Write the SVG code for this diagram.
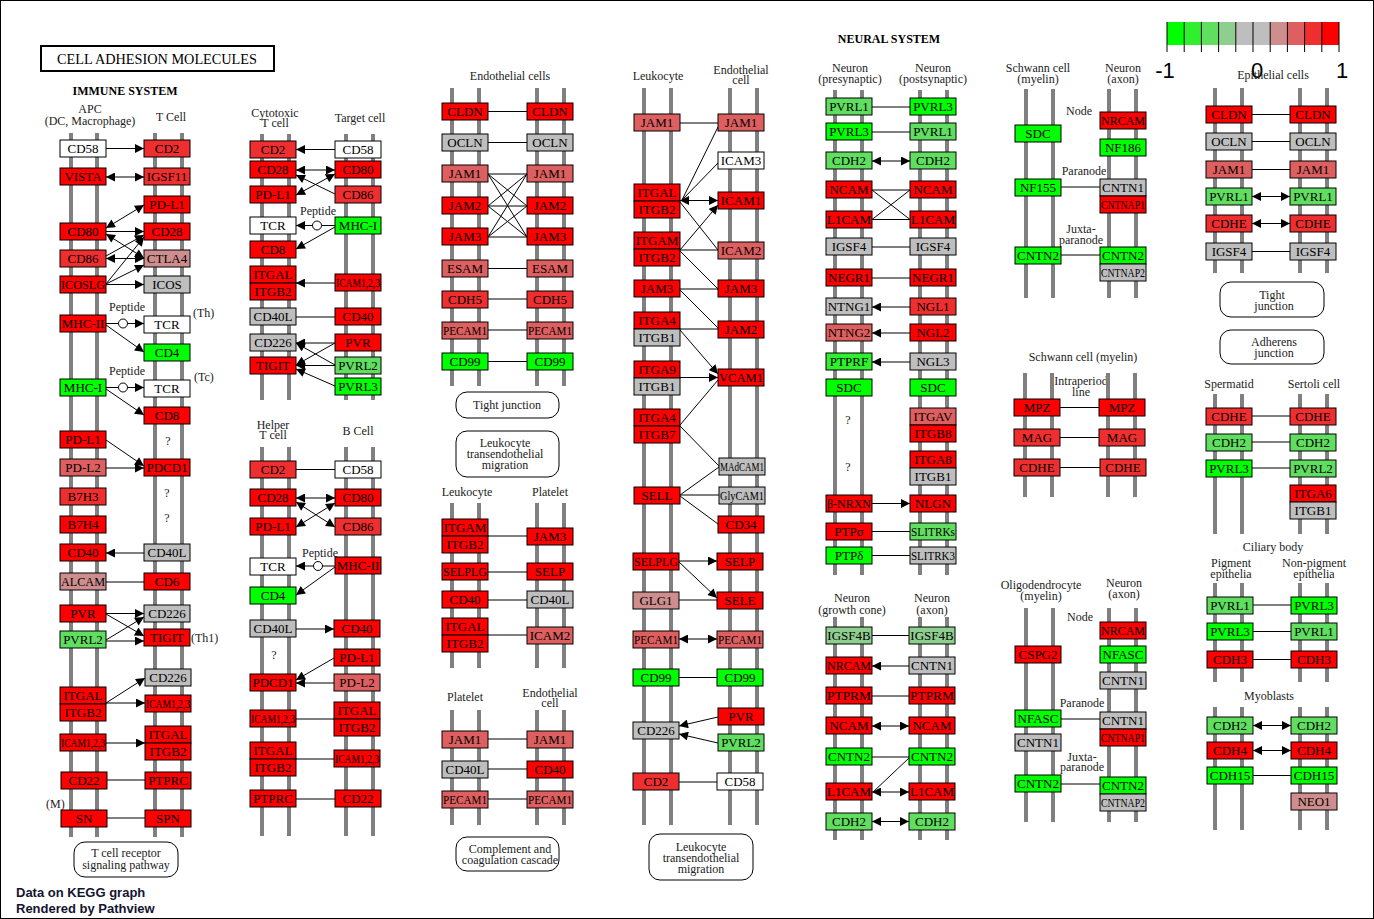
<svg xmlns="http://www.w3.org/2000/svg" width="1374" height="919" viewBox="0 0 1374 919">
<style>
.n{stroke:#000;stroke-width:1}
.t{font-family:"Liberation Serif",serif;font-size:13px;text-anchor:middle;fill:#000}
.l{font-family:"Liberation Serif",serif;font-size:12px;text-anchor:middle;fill:#222}
.s{text-anchor:start}
.h{font-weight:bold;font-size:12px;fill:#000}
.mb{stroke:#808080;stroke-width:4}
.e{stroke:#000;stroke-width:1;fill:none}
.a{marker-end:url(#ar)}
.b{marker-start:url(#ar);marker-end:url(#ar)}
.rb{fill:#fff;stroke:#000;stroke-width:1}
.c0{fill:#FF0000}.c1{fill:#EF2F2F}.c2{fill:#DE5F5F}.c3{fill:#CE8E8E}
.g{fill:#BEBEBE}.w{fill:#FFFFFF}
.e0{fill:#00FF00}.e1{fill:#2FEF2F}.e2{fill:#5FDE5F}.e3{fill:#8ECE8E}
.ft{font-family:"Liberation Sans",Arial,sans-serif;font-weight:bold;font-size:13px;fill:#141432}
.lg{font-family:"Liberation Sans",Arial,sans-serif;font-size:22px;fill:#000}
</style>
<defs>
<marker id="ar" viewBox="0 0 10 10" refX="10" refY="5" markerWidth="10" markerHeight="9" markerUnits="userSpaceOnUse" orient="auto-start-reverse"><path d="M0,0 L10,5 L0,10 z" fill="#000"/></marker>
</defs>
<rect x="0.5" y="0.5" width="1373" height="918" fill="#fff" stroke="#000"/>

<g id="legend">
<rect x="1167" y="22" width="17.2" height="23" class="e0"/>
<rect x="1184.2" y="22" width="17.2" height="23" class="e1"/>
<rect x="1201.4" y="22" width="17.2" height="23" class="e2"/>
<rect x="1218.6" y="22" width="17.2" height="23" class="e3"/>
<rect x="1235.8" y="22" width="17.2" height="23" class="g"/>
<rect x="1253" y="22" width="17.2" height="23" class="g"/>
<rect x="1270.2" y="22" width="17.2" height="23" class="c3"/>
<rect x="1287.4" y="22" width="17.2" height="23" class="c2"/>
<rect x="1304.6" y="22" width="17.2" height="23" class="c1"/>
<rect x="1321.8" y="22" width="17.2" height="23" class="c0"/>
<path d="M1167,22V52M1184.2,22V52M1201.4,22V52M1218.6,22V52M1235.8,22V52M1253,22V52M1270.2,22V52M1287.4,22V52M1304.6,22V52M1321.8,22V52M1339,22V52" stroke="#000" stroke-width="1"/>
<text x="1165" y="78" class="lg" text-anchor="middle">-1</text>
<text x="1257" y="78" class="lg" text-anchor="middle">0</text>
<text x="1342" y="78" class="lg" text-anchor="middle">1</text>
</g>

<g id="title">
<rect x="41" y="46" width="233" height="25" fill="#fff" stroke="#000" stroke-width="2"/>
<text x="157" y="64" class="t" style="font-size:14px" textLength="200" lengthAdjust="spacingAndGlyphs">CELL ADHESION  MOLECULES</text>
</g>

<g id="labels">
<text x="125" y="95" class="l h">IMMUNE SYSTEM</text>
<text x="90" y="113" class="l">APC</text>
<text x="90" y="125" class="l">(DC, Macrophage)</text>
<text x="171" y="121" class="l">T Cell</text>
<text x="127" y="311" class="l">Peptide</text>
<text x="127" y="375" class="l">Peptide</text>
<text x="193" y="317" class="l s">(Th)</text>
<text x="194" y="381" class="l s">(Tc)</text>
<text x="191" y="642" class="l s">(Th1)</text>
<text x="46" y="808" class="l s">(M)</text>
<text x="168" y="445" class="l">?</text>
<text x="167" y="497" class="l">?</text>
<text x="167" y="522" class="l">?</text>
<text x="275" y="117" class="l">Cytotoxic</text>
<text x="275" y="127" class="l">T cell</text>
<text x="360" y="122" class="l">Target cell</text>
<text x="318" y="215" class="l">Peptide</text>
<text x="273" y="429" class="l">Helper</text>
<text x="273" y="439" class="l">T cell</text>
<text x="358" y="435" class="l">B Cell</text>
<text x="320" y="557" class="l">Peptide</text>
<text x="274" y="659" class="l">?</text>
<text x="510" y="80" class="l">Endothelial cells</text>
<text x="467" y="496" class="l">Leukocyte</text>
<text x="550" y="496" class="l">Platelet</text>
<text x="465" y="701" class="l">Platelet</text>
<text x="550" y="697" class="l">Endothelial</text>
<text x="550" y="707" class="l">cell</text>
<text x="658" y="80" class="l">Leukocyte</text>
<text x="741" y="74" class="l">Endothelial</text>
<text x="741" y="84" class="l">cell</text>
<text x="889" y="43" class="l h">NEURAL SYSTEM</text>
<text x="850" y="72" class="l">Neuron</text>
<text x="850" y="83" class="l">(presynaptic)</text>
<text x="933" y="72" class="l">Neuron</text>
<text x="933" y="83" class="l">(postsynaptic)</text>
<text x="848" y="424" class="l">?</text>
<text x="848" y="471" class="l">?</text>
<text x="852" y="602" class="l">Neuron</text>
<text x="852" y="614" class="l">(growth cone)</text>
<text x="932" y="602" class="l">Neuron</text>
<text x="932" y="614" class="l">(axon)</text>
<text x="1038" y="72" class="l">Schwann cell</text>
<text x="1038" y="83" class="l">(myelin)</text>
<text x="1123" y="72" class="l">Neuron</text>
<text x="1123" y="83" class="l">(axon)</text>
<text x="1079" y="115" class="l">Node</text>
<text x="1084" y="175" class="l">Paranode</text>
<text x="1081" y="233" class="l">Juxta-</text>
<text x="1081" y="244" class="l">paranode</text>
<text x="1273" y="79" class="l">Epithelial cells</text>
<text x="1083" y="361" class="l">Schwann cell (myelin)</text>
<text x="1081" y="385" class="l">Intraperiod</text>
<text x="1081" y="396" class="l">line</text>
<text x="1229" y="388" class="l">Spermatid</text>
<text x="1314" y="388" class="l">Sertoli cell</text>
<text x="1273" y="551" class="l">Ciliary body</text>
<text x="1231" y="567" class="l">Pigment</text>
<text x="1231" y="578" class="l">epithelia</text>
<text x="1314" y="567" class="l">Non-pigment</text>
<text x="1314" y="578" class="l">epithelia</text>
<text x="1269" y="700" class="l">Myoblasts</text>
<text x="1041" y="589" class="l">Oligodendrocyte</text>
<text x="1041" y="600" class="l">(myelin)</text>
<text x="1124" y="587" class="l">Neuron</text>
<text x="1124" y="598" class="l">(axon)</text>
<text x="1080" y="621" class="l">Node</text>
<text x="1082" y="707" class="l">Paranode</text>
<text x="1082" y="761" class="l">Juxta-</text>
<text x="1082" y="771" class="l">paranode</text>
<text x="16" y="897" class="ft">Data on KEGG graph</text>
<text x="16" y="913" class="ft">Rendered by Pathview</text>
</g>

<g id="membranes" class="mb">
<path d="M71,133V837M97,133V837M155,133V837M182,133V837"/>
<path d="M262,134V400M289,134V400M346,134V400M373,134V400"/>
<path d="M262,447V836M289,447V836M346,447V836M373,447V836"/>
<path d="M452,88V386M479,88V386M537,88V386M564,88V386"/>
<path d="M452,503V668M479,503V668M537,503V668M564,503V668"/>
<path d="M452,710V825M479,710V825M537,710V825M564,710V825"/>
<path d="M644,88V825M671,88V825M730,88V825M757,88V825"/>
<path d="M835,90V575M862,90V575M920,90V575M947,90V575"/>
<path d="M835,617V840M862,617V840M920,617V840M947,617V840"/>
<path d="M1026,89V298M1053,89V298M1109,89V298M1136,89V298"/>
<path d="M1215,88V273M1242,88V273M1300,88V273M1327,88V273"/>
<path d="M1025,373V497M1052,373V497M1108,373V497M1135,373V497"/>
<path d="M1215,394V534M1242,394V534M1300,394V534M1327,394V534"/>
<path d="M1215,583V682M1242,583V682M1300,583V682M1327,583V682"/>
<path d="M1215,707V830M1242,707V830M1300,707V830M1327,707V830"/>
<path d="M1026,608V822M1053,608V822M1109,608V822M1136,608V822"/>
</g>

<g id="connectors">
<!-- immune -->
<path class="e a" d="M106,148.5L144,148.5"/>
<path class="e b" d="M106,177L144,177"/>
<path class="e b" d="M106,228L144,205"/>
<path class="e a" d="M106,231.5L144,231.5"/>
<path class="e b" d="M106,234L144,258"/>
<path class="e b" d="M106,258.5L144,258.5"/>
<path class="e a" d="M106,256L144,235"/>
<path class="e a" d="M106,284L144,237"/>
<path class="e a" d="M106,284L144,265"/>
<path class="e a" d="M106,284.5L144,284.5"/>
<path class="e" d="M106,323.5L119,323.5"/>
<circle cx="123" cy="323.5" r="4.5" fill="#fff" stroke="#000"/>
<path class="e a" d="M127.5,323.5L144,323.5"/>
<path class="e a" d="M106,325L144,352"/>
<path class="e" d="M106,387.5L119,387.5"/>
<circle cx="123" cy="387.5" r="4.5" fill="#fff" stroke="#000"/>
<path class="e a" d="M127.5,387.5L144,387.5"/>
<path class="e a" d="M106,389L144,415"/>
<path class="e a" d="M106,440L144,466"/>
<path class="e a" d="M106,468L144,468"/>
<path class="e a" d="M144,553L106,553"/>
<path class="e" d="M106,582L144,582"/>
<path class="e a" d="M106,613.5L144,613.5"/>
<path class="e a" d="M106,614L144,636"/>
<path class="e a" d="M106,640L144,617"/>
<path class="e a" d="M106,641L144,641"/>
<path class="e a" d="M106,703L145,678"/>
<path class="e a" d="M106,703L145,703"/>
<path class="e a" d="M106,743L145,743"/>
<path class="e" d="M107,780L145,780"/>
<path class="e" d="M107,818L145,818"/>
<!-- cytotoxic -->
<path class="e a" d="M335,149.5L296,149.5"/>
<path class="e b" d="M296,170L335,170"/>
<path class="e a" d="M335,194L296,175"/>
<path class="e b" d="M335,174L296,195"/>
<path class="e" d="M335,225.5L321.5,225.5"/>
<circle cx="317" cy="225.5" r="4.5" fill="#fff" stroke="#000"/>
<path class="e a" d="M312.5,225.5L296,225.5"/>
<path class="e a" d="M335,227L296,249"/>
<path class="e a" d="M335,283L296,283"/>
<path class="e" d="M296,317L335,317"/>
<path class="e a" d="M335,343L296,343"/>
<path class="e a" d="M335,343L296,365"/>
<path class="e a" d="M335,365L296,343"/>
<path class="e a" d="M335,365.5L296,365.5"/>
<path class="e a" d="M335,386L296,369"/>
<!-- helper -->
<path class="e" d="M296,469.5L335,469.5"/>
<path class="e b" d="M296,498L335,498"/>
<path class="e b" d="M296,502L335,527"/>
<path class="e b" d="M335,503L296,527"/>
<path class="e" d="M335,566L322.5,566"/>
<circle cx="318" cy="566" r="4.5" fill="#fff" stroke="#000"/>
<path class="e a" d="M313.5,566L296,566"/>
<path class="e a" d="M335,567L296,595"/>
<path class="e a" d="M296,629L334,629"/>
<path class="e a" d="M334,658L296,680"/>
<path class="e a" d="M334,683L296,683"/>
<path class="e" d="M296,719L334,719"/>
<path class="e" d="M296,759L334,759"/>
<path class="e" d="M296,799L335,799"/>
<!-- endothelial -->
<path class="e" d="M488,111.5L527,111.5M488,142.5L527,142.5M488,268.5L527,268.5M488,299L527,299M488,330L527,330M488,361.5L527,361.5"/>
<path class="e" stroke-width="0.8" d="M488,174L527,174M488,174L527,206M488,174L527,237M488,206L527,174M488,206L527,206M488,206L527,237M488,237L527,174M488,237L527,206M488,237L527,237"/>
<path class="e" d="M488,536L527,536M488,572L527,572M488,600L527,600M488,635L527,635"/>
<path class="e" d="M488,739L527,739M488,769L527,769M488,799L527,799"/>
<!-- leukocyte / endothelial -->
<path class="e" d="M680,123L718,123M718,127L682,200M718,163L682,200"/>
<path class="e b" d="M680,200.5L718,200.5"/>
<path class="e" d="M680,202L718,250"/>
<path class="e a" d="M680,250L718,205"/>
<path class="e" d="M680,250L718,250M680,251L718,289M680,289L718,289M680,290L718,328M680,329L718,329"/>
<path class="e a" d="M680,330L718,374"/>
<path class="e a" d="M680,377.5L718,377.5"/>
<path class="e" d="M680,425L718,380M680,426L719,466M680,495L719,467M680,495L719,495M680,496L718,524"/>
<path class="e a" d="M679,561L717,561"/>
<path class="e a" d="M679,562L717,598"/>
<path class="e" d="M679,600L717,600"/>
<path class="e b" d="M679,639L717,639"/>
<path class="e" d="M679,677.5L717,677.5"/>
<path class="e a" d="M718,717L679,726"/>
<path class="e a" d="M718,743L679,734"/>
<path class="e" d="M679,782L717,782"/>
<!-- neural 1 -->
<path class="e" d="M872,107L910,107M872,132L910,132M872,190L910,190M872,219.5L910,219.5M872,190L910,219.5M872,219.5L910,190M872,247L910,247M872,278L910,278M872,531.5L910,531.5M872,555.5L910,555.5"/>
<path class="e b" d="M872,161L910,161"/>
<path class="e a" d="M910,307L872,307"/>
<path class="e a" d="M910,333L872,333"/>
<path class="e a" d="M910,362L872,362"/>
<path class="e a" d="M872,503.5L910,503.5"/>
<!-- neural 2 -->
<path class="e" d="M872,635.5L909,635.5M872,696L909,696M872,757L909,757M909,758L873,792"/>
<path class="e a" d="M909,666L872,666"/>
<path class="e b" d="M872,726L909,726"/>
<path class="e b" d="M872,792L909,792"/>
<path class="e b" d="M872,821.5L909,821.5"/>
<!-- schwann / epithelial -->
<path class="e" d="M1061,187L1100,187M1061,255L1100,255"/>
<path class="e" d="M1252,114.5L1290,114.5M1252,141.5L1290,141.5M1252,169.5L1290,169.5M1252,251.5L1290,251.5"/>
<path class="e b" d="M1252,196.5L1290,196.5"/>
<path class="e b" d="M1252,223.5L1290,223.5"/>
<path class="e" d="M1060,407.5L1099,407.5M1060,437.5L1099,437.5M1060,467.5L1100,467.5"/>
<path class="e" d="M1252,416L1290,416M1252,442L1290,442M1252,468L1290,468"/>
<path class="e" d="M1253,605L1291,605M1253,631.5L1291,631.5M1253,659.5L1291,659.5"/>
<path class="e b" d="M1253,725.5L1291,725.5"/>
<path class="e b" d="M1253,750.5L1291,750.5"/>
<path class="e" d="M1253,775.5L1291,775.5"/>
<path class="e" d="M1061,719L1100,719M1061,784L1100,784"/>
</g>

<g id="pathways">
<g id="p_tcr"><rect x="74" y="842" width="104" height="35" rx="11" class="rb"/><text x="126" y="857" class="l">T cell receptor</text><text x="126" y="869" class="l">signaling pathway</text></g>
<g id="p_tj1"><rect x="456" y="392" width="103" height="26" rx="11" class="rb"/><text x="507" y="409" class="l">Tight junction</text></g>
<g id="p_ltm1"><rect x="456" y="431" width="103" height="46" rx="11" class="rb"/><text x="505" y="447" class="l">Leukocyte</text><text x="505" y="458" class="l">transendothelial</text><text x="505" y="469" class="l">migration</text></g>
<g id="p_cc"><rect x="456" y="837" width="103" height="34" rx="11" class="rb"/><text x="510" y="853" class="l">Complement and</text><text x="510" y="864" class="l">coagulation cascade</text></g>
<g id="p_ltm2"><rect x="649" y="834" width="104" height="46" rx="11" class="rb"/><text x="701" y="851" class="l">Leukocyte</text><text x="701" y="862" class="l">transendothelial</text><text x="701" y="873" class="l">migration</text></g>
<g id="p_tj2"><rect x="1220" y="282" width="104" height="35" rx="11" class="rb"/><text x="1272" y="299" class="l">Tight</text><text x="1274" y="310" class="l">junction</text></g>
<g id="p_aj"><rect x="1220" y="330" width="104" height="34" rx="11" class="rb"/><text x="1274" y="346" class="l">Adherens</text><text x="1274" y="357" class="l">junction</text></g>
</g>

<!-- immune nodes -->
<g id="imm_CD58"><rect x="60" y="140" width="46" height="17" class="n w"/><text x="83" y="153" class="t">CD58</text></g>
<g id="imm_VISTA"><rect x="60" y="168" width="46" height="17" class="n c0"/><text x="83" y="181" class="t">VISTA</text></g>
<g id="imm_CD80"><rect x="60" y="223" width="46" height="17" class="n c0"/><text x="83" y="236" class="t">CD80</text></g>
<g id="imm_CD86"><rect x="60" y="250" width="46" height="17" class="n c1"/><text x="83" y="263" class="t">CD86</text></g>
<g id="imm_ICOSLG"><rect x="60" y="276" width="46" height="17" class="n c0"/><text x="83" y="289" class="t" textLength="44" lengthAdjust="spacingAndGlyphs">ICOSLG</text></g>
<g id="imm_MHCII"><rect x="60" y="315" width="46" height="17" class="n c0"/><text x="83" y="328" class="t">MHC-II</text></g>
<g id="imm_MHCI"><rect x="60" y="379" width="46" height="17" class="n e0"/><text x="83" y="392" class="t">MHC-I</text></g>
<g id="imm_PDL1a"><rect x="60" y="431" width="46" height="17" class="n c0"/><text x="83" y="444" class="t">PD-L1</text></g>
<g id="imm_PDL2"><rect x="60" y="459" width="46" height="17" class="n c2"/><text x="83" y="472" class="t">PD-L2</text></g>
<g id="imm_B7H3"><rect x="60" y="488" width="46" height="17" class="n c1"/><text x="83" y="501" class="t">B7H3</text></g>
<g id="imm_B7H4"><rect x="60" y="516" width="46" height="17" class="n c0"/><text x="83" y="529" class="t">B7H4</text></g>
<g id="imm_CD40"><rect x="60" y="544" width="46" height="17" class="n c0"/><text x="83" y="557" class="t">CD40</text></g>
<g id="imm_ALCAM"><rect x="60" y="573" width="46" height="17" class="n c3"/><text x="83" y="586" class="t" textLength="44" lengthAdjust="spacingAndGlyphs">ALCAM</text></g>
<g id="imm_PVR"><rect x="60" y="605" width="46" height="17" class="n c0"/><text x="83" y="618" class="t">PVR</text></g>
<g id="imm_PVRL2"><rect x="60" y="631" width="46" height="17" class="n e2"/><text x="83" y="644" class="t">PVRL2</text></g>
<g id="imm_ITGAL_ITGB2a"><rect x="60" y="687" width="46" height="17" class="n c0"/><text x="83" y="700" class="t">ITGAL</text><rect x="60" y="704" width="46" height="17" class="n c0"/><text x="83" y="717" class="t">ITGB2</text></g>
<g id="imm_ICAMa"><rect x="60" y="734" width="46" height="17" class="n c0"/><text x="83" y="747" class="t" textLength="44" lengthAdjust="spacingAndGlyphs">ICAM1,2,3</text></g>
<g id="imm_CD22"><rect x="61" y="772" width="46" height="17" class="n c0"/><text x="84" y="785" class="t">CD22</text></g>
<g id="imm_SN"><rect x="61" y="810" width="46" height="17" class="n c0"/><text x="84" y="823" class="t">SN</text></g>
<g id="imm_CD2"><rect x="144" y="140" width="46" height="17" class="n c1"/><text x="167" y="153" class="t">CD2</text></g>
<g id="imm_IGSF11"><rect x="144" y="168" width="46" height="17" class="n c1"/><text x="167" y="181" class="t">IGSF11</text></g>
<g id="imm_PDL1b"><rect x="144" y="196" width="46" height="17" class="n c0"/><text x="167" y="209" class="t">PD-L1</text></g>
<g id="imm_CD28"><rect x="144" y="223" width="46" height="17" class="n c0"/><text x="167" y="236" class="t">CD28</text></g>
<g id="imm_CTLA4"><rect x="144" y="250" width="46" height="17" class="n c3"/><text x="167" y="263" class="t">CTLA4</text></g>
<g id="imm_ICOS"><rect x="144" y="276" width="46" height="17" class="n g"/><text x="167" y="289" class="t">ICOS</text></g>
<g id="imm_TCRa"><rect x="144" y="316" width="46" height="17" class="n w"/><text x="167" y="329" class="t">TCR</text></g>
<g id="imm_CD4"><rect x="144" y="344" width="46" height="17" class="n e0"/><text x="167" y="357" class="t">CD4</text></g>
<g id="imm_TCRb"><rect x="144" y="380" width="46" height="17" class="n w"/><text x="167" y="393" class="t">TCR</text></g>
<g id="imm_CD8"><rect x="144" y="407" width="46" height="17" class="n c0"/><text x="167" y="420" class="t">CD8</text></g>
<g id="imm_PDCD1"><rect x="144" y="459" width="46" height="17" class="n c0"/><text x="167" y="472" class="t">PDCD1</text></g>
<g id="imm_CD40L"><rect x="144" y="544" width="46" height="17" class="n g"/><text x="167" y="557" class="t">CD40L</text></g>
<g id="imm_CD6"><rect x="144" y="573" width="46" height="17" class="n c0"/><text x="167" y="586" class="t">CD6</text></g>
<g id="imm_CD226a"><rect x="144" y="605" width="46" height="17" class="n g"/><text x="167" y="618" class="t">CD226</text></g>
<g id="imm_TIGIT"><rect x="144" y="629" width="46" height="17" class="n c0"/><text x="167" y="642" class="t">TIGIT</text></g>
<g id="imm_CD226b"><rect x="145" y="669" width="46" height="17" class="n g"/><text x="168" y="682" class="t">CD226</text></g>
<g id="imm_ICAMb"><rect x="145" y="695" width="46" height="17" class="n c0"/><text x="168" y="708" class="t" textLength="44" lengthAdjust="spacingAndGlyphs">ICAM1,2,3</text></g>
<g id="imm_ITGAL_ITGB2b"><rect x="145" y="726" width="46" height="17" class="n c0"/><text x="168" y="739" class="t">ITGAL</text><rect x="145" y="743" width="46" height="17" class="n c0"/><text x="168" y="756" class="t">ITGB2</text></g>
<g id="imm_PTPRC"><rect x="145" y="772" width="46" height="17" class="n c0"/><text x="168" y="785" class="t">PTPRC</text></g>
<g id="imm_SPN"><rect x="145" y="810" width="46" height="17" class="n c0"/><text x="168" y="823" class="t">SPN</text></g>

<!-- cytotoxic -->
<g id="ctl_CD2"><rect x="250" y="141" width="46" height="17" class="n c1"/><text x="273" y="154" class="t">CD2</text></g>
<g id="ctl_CD58"><rect x="335" y="141" width="46" height="17" class="n w"/><text x="358" y="154" class="t">CD58</text></g>
<g id="ctl_CD28"><rect x="250" y="161" width="46" height="17" class="n c0"/><text x="273" y="174" class="t">CD28</text></g>
<g id="ctl_CD80"><rect x="335" y="161" width="46" height="17" class="n c0"/><text x="358" y="174" class="t">CD80</text></g>
<g id="ctl_PDL1"><rect x="250" y="186" width="46" height="17" class="n c0"/><text x="273" y="199" class="t">PD-L1</text></g>
<g id="ctl_CD86"><rect x="335" y="186" width="46" height="17" class="n c1"/><text x="358" y="199" class="t">CD86</text></g>
<g id="ctl_TCR"><rect x="250" y="217" width="46" height="17" class="n w"/><text x="273" y="230" class="t">TCR</text></g>
<g id="ctl_MHCI"><rect x="335" y="217" width="46" height="17" class="n e0"/><text x="358" y="230" class="t">MHC-I</text></g>
<g id="ctl_CD8"><rect x="250" y="241" width="46" height="17" class="n c0"/><text x="273" y="254" class="t">CD8</text></g>
<g id="ctl_ITGAL_ITGB2"><rect x="250" y="266" width="46" height="17" class="n c0"/><text x="273" y="279" class="t">ITGAL</text><rect x="250" y="283" width="46" height="17" class="n c0"/><text x="273" y="296" class="t">ITGB2</text></g>
<g id="ctl_ICAM"><rect x="335" y="274" width="46" height="17" class="n c0"/><text x="358" y="287" class="t" textLength="44" lengthAdjust="spacingAndGlyphs">ICAM1,2,3</text></g>
<g id="ctl_CD40L"><rect x="250" y="308" width="46" height="17" class="n g"/><text x="273" y="321" class="t">CD40L</text></g>
<g id="ctl_CD40"><rect x="335" y="308" width="46" height="17" class="n c0"/><text x="358" y="321" class="t">CD40</text></g>
<g id="ctl_CD226"><rect x="250" y="334" width="46" height="17" class="n g"/><text x="273" y="347" class="t">CD226</text></g>
<g id="ctl_PVR"><rect x="335" y="334" width="46" height="17" class="n c0"/><text x="358" y="347" class="t">PVR</text></g>
<g id="ctl_TIGIT"><rect x="250" y="357" width="46" height="17" class="n c0"/><text x="273" y="370" class="t">TIGIT</text></g>
<g id="ctl_PVRL2"><rect x="335" y="357" width="46" height="17" class="n e2"/><text x="358" y="370" class="t">PVRL2</text></g>
<g id="ctl_PVRL3"><rect x="335" y="378" width="46" height="17" class="n e0"/><text x="358" y="391" class="t">PVRL3</text></g>

<!-- helper -->
<g id="th_CD2"><rect x="250" y="461" width="46" height="17" class="n c1"/><text x="273" y="474" class="t">CD2</text></g>
<g id="th_CD58"><rect x="335" y="461" width="46" height="17" class="n w"/><text x="358" y="474" class="t">CD58</text></g>
<g id="th_CD28"><rect x="250" y="489" width="46" height="17" class="n c0"/><text x="273" y="502" class="t">CD28</text></g>
<g id="th_CD80"><rect x="335" y="489" width="46" height="17" class="n c0"/><text x="358" y="502" class="t">CD80</text></g>
<g id="th_PDL1a"><rect x="250" y="518" width="46" height="17" class="n c0"/><text x="273" y="531" class="t">PD-L1</text></g>
<g id="th_CD86"><rect x="335" y="518" width="46" height="17" class="n c1"/><text x="358" y="531" class="t">CD86</text></g>
<g id="th_TCR"><rect x="250" y="558" width="46" height="17" class="n w"/><text x="273" y="571" class="t">TCR</text></g>
<g id="th_MHCII"><rect x="335" y="557" width="46" height="17" class="n c0"/><text x="358" y="570" class="t">MHC-II</text></g>
<g id="th_CD4"><rect x="250" y="587" width="46" height="17" class="n e0"/><text x="273" y="600" class="t">CD4</text></g>
<g id="th_CD40L"><rect x="250" y="620" width="46" height="17" class="n g"/><text x="273" y="633" class="t">CD40L</text></g>
<g id="th_CD40"><rect x="334" y="620" width="46" height="17" class="n c0"/><text x="357" y="633" class="t">CD40</text></g>
<g id="th_PDL1b"><rect x="334" y="649" width="46" height="17" class="n c0"/><text x="357" y="662" class="t">PD-L1</text></g>
<g id="th_PDCD1"><rect x="250" y="674" width="46" height="17" class="n c0"/><text x="273" y="687" class="t">PDCD1</text></g>
<g id="th_PDL2"><rect x="334" y="674" width="46" height="17" class="n c2"/><text x="357" y="687" class="t">PD-L2</text></g>
<g id="th_ICAMa"><rect x="250" y="710" width="46" height="17" class="n c0"/><text x="273" y="723" class="t" textLength="44" lengthAdjust="spacingAndGlyphs">ICAM1,2,3</text></g>
<g id="th_ITGAL_ITGB2a"><rect x="334" y="702" width="46" height="17" class="n c0"/><text x="357" y="715" class="t">ITGAL</text><rect x="334" y="719" width="46" height="17" class="n c0"/><text x="357" y="732" class="t">ITGB2</text></g>
<g id="th_ITGAL_ITGB2b"><rect x="250" y="742" width="46" height="17" class="n c0"/><text x="273" y="755" class="t">ITGAL</text><rect x="250" y="759" width="46" height="17" class="n c0"/><text x="273" y="772" class="t">ITGB2</text></g>
<g id="th_ICAMb"><rect x="334" y="750" width="46" height="17" class="n c0"/><text x="357" y="763" class="t" textLength="44" lengthAdjust="spacingAndGlyphs">ICAM1,2,3</text></g>
<g id="th_PTPRC"><rect x="250" y="790" width="46" height="17" class="n c0"/><text x="273" y="803" class="t">PTPRC</text></g>
<g id="th_CD22"><rect x="335" y="790" width="46" height="17" class="n c0"/><text x="358" y="803" class="t">CD22</text></g>

<!-- endothelial -->
<g id="en_CLDNa"><rect x="442" y="103" width="46" height="17" class="n c0"/><text x="465" y="116" class="t">CLDN</text></g>
<g id="en_CLDNb"><rect x="527" y="103" width="46" height="17" class="n c0"/><text x="550" y="116" class="t">CLDN</text></g>
<g id="en_OCLNa"><rect x="442" y="134" width="46" height="17" class="n g"/><text x="465" y="147" class="t">OCLN</text></g>
<g id="en_OCLNb"><rect x="527" y="134" width="46" height="17" class="n g"/><text x="550" y="147" class="t">OCLN</text></g>
<g id="en_JAM1a"><rect x="442" y="165" width="46" height="17" class="n c2"/><text x="465" y="178" class="t">JAM1</text></g>
<g id="en_JAM1b"><rect x="527" y="165" width="46" height="17" class="n c2"/><text x="550" y="178" class="t">JAM1</text></g>
<g id="en_JAM2a"><rect x="442" y="197" width="46" height="17" class="n c0"/><text x="465" y="210" class="t">JAM2</text></g>
<g id="en_JAM2b"><rect x="527" y="197" width="46" height="17" class="n c0"/><text x="550" y="210" class="t">JAM2</text></g>
<g id="en_JAM3a"><rect x="442" y="228" width="46" height="17" class="n c0"/><text x="465" y="241" class="t">JAM3</text></g>
<g id="en_JAM3b"><rect x="527" y="228" width="46" height="17" class="n c0"/><text x="550" y="241" class="t">JAM3</text></g>
<g id="en_ESAMa"><rect x="442" y="260" width="46" height="17" class="n c2"/><text x="465" y="273" class="t">ESAM</text></g>
<g id="en_ESAMb"><rect x="527" y="260" width="46" height="17" class="n c2"/><text x="550" y="273" class="t">ESAM</text></g>
<g id="en_CDH5a"><rect x="442" y="291" width="46" height="17" class="n c1"/><text x="465" y="304" class="t">CDH5</text></g>
<g id="en_CDH5b"><rect x="527" y="291" width="46" height="17" class="n c1"/><text x="550" y="304" class="t">CDH5</text></g>
<g id="en_PECAM1a"><rect x="442" y="322" width="46" height="17" class="n c2"/><text x="465" y="335" class="t" textLength="44" lengthAdjust="spacingAndGlyphs">PECAM1</text></g>
<g id="en_PECAM1b"><rect x="527" y="322" width="46" height="17" class="n c2"/><text x="550" y="335" class="t" textLength="44" lengthAdjust="spacingAndGlyphs">PECAM1</text></g>
<g id="en_CD99a"><rect x="442" y="353" width="46" height="17" class="n e0"/><text x="465" y="366" class="t">CD99</text></g>
<g id="en_CD99b"><rect x="527" y="353" width="46" height="17" class="n e0"/><text x="550" y="366" class="t">CD99</text></g>

<!-- leukocyte / platelet -->
<g id="lp_ITGAM_ITGB2"><rect x="442" y="519" width="46" height="17" class="n c0"/><text x="465" y="532" class="t">ITGAM</text><rect x="442" y="536" width="46" height="17" class="n c0"/><text x="465" y="549" class="t">ITGB2</text></g>
<g id="lp_JAM3"><rect x="527" y="528" width="46" height="17" class="n c0"/><text x="550" y="541" class="t">JAM3</text></g>
<g id="lp_SELPLG"><rect x="442" y="563" width="46" height="17" class="n c0"/><text x="465" y="576" class="t" textLength="44" lengthAdjust="spacingAndGlyphs">SELPLG</text></g>
<g id="lp_SELP"><rect x="527" y="563" width="46" height="17" class="n c0"/><text x="550" y="576" class="t">SELP</text></g>
<g id="lp_CD40"><rect x="442" y="591" width="46" height="17" class="n c0"/><text x="465" y="604" class="t">CD40</text></g>
<g id="lp_CD40L"><rect x="527" y="591" width="46" height="17" class="n g"/><text x="550" y="604" class="t">CD40L</text></g>
<g id="lp_ITGAL_ITGB2"><rect x="442" y="618" width="46" height="17" class="n c0"/><text x="465" y="631" class="t">ITGAL</text><rect x="442" y="635" width="46" height="17" class="n c0"/><text x="465" y="648" class="t">ITGB2</text></g>
<g id="lp_ICAM2"><rect x="527" y="627" width="46" height="17" class="n c2"/><text x="550" y="640" class="t">ICAM2</text></g>

<!-- platelet / endothelial -->
<g id="pe_JAM1a"><rect x="442" y="731" width="46" height="17" class="n c2"/><text x="465" y="744" class="t">JAM1</text></g>
<g id="pe_JAM1b"><rect x="527" y="731" width="46" height="17" class="n c2"/><text x="550" y="744" class="t">JAM1</text></g>
<g id="pe_CD40L"><rect x="442" y="761" width="46" height="17" class="n g"/><text x="465" y="774" class="t">CD40L</text></g>
<g id="pe_CD40"><rect x="527" y="761" width="46" height="17" class="n c0"/><text x="550" y="774" class="t">CD40</text></g>
<g id="pe_PECAM1a"><rect x="442" y="791" width="46" height="17" class="n c2"/><text x="465" y="804" class="t" textLength="44" lengthAdjust="spacingAndGlyphs">PECAM1</text></g>
<g id="pe_PECAM1b"><rect x="527" y="791" width="46" height="17" class="n c2"/><text x="550" y="804" class="t" textLength="44" lengthAdjust="spacingAndGlyphs">PECAM1</text></g>

<!-- leukocyte / endothelial cell -->
<g id="le_JAM1a"><rect x="634" y="114" width="46" height="17" class="n c2"/><text x="657" y="127" class="t">JAM1</text></g>
<g id="le_JAM1b"><rect x="718" y="114" width="46" height="17" class="n c2"/><text x="741" y="127" class="t">JAM1</text></g>
<g id="le_ICAM3"><rect x="718" y="152" width="46" height="17" class="n w"/><text x="741" y="165" class="t">ICAM3</text></g>
<g id="le_ITGAL_ITGB2"><rect x="634" y="184" width="46" height="17" class="n c0"/><text x="657" y="197" class="t">ITGAL</text><rect x="634" y="201" width="46" height="17" class="n c0"/><text x="657" y="214" class="t">ITGB2</text></g>
<g id="le_ICAM1"><rect x="718" y="192" width="46" height="17" class="n c0"/><text x="741" y="205" class="t">ICAM1</text></g>
<g id="le_ITGAM_ITGB2"><rect x="634" y="232" width="46" height="17" class="n c0"/><text x="657" y="245" class="t">ITGAM</text><rect x="634" y="249" width="46" height="17" class="n c0"/><text x="657" y="262" class="t">ITGB2</text></g>
<g id="le_ICAM2"><rect x="718" y="242" width="46" height="17" class="n c2"/><text x="741" y="255" class="t">ICAM2</text></g>
<g id="le_JAM3a"><rect x="634" y="280" width="46" height="17" class="n c0"/><text x="657" y="293" class="t">JAM3</text></g>
<g id="le_JAM3b"><rect x="718" y="280" width="46" height="17" class="n c0"/><text x="741" y="293" class="t">JAM3</text></g>
<g id="le_ITGA4_ITGB1"><rect x="634" y="312" width="46" height="17" class="n c0"/><text x="657" y="325" class="t">ITGA4</text><rect x="634" y="329" width="46" height="17" class="n g"/><text x="657" y="342" class="t">ITGB1</text></g>
<g id="le_JAM2"><rect x="718" y="321" width="46" height="17" class="n c0"/><text x="741" y="334" class="t">JAM2</text></g>
<g id="le_ITGA9_ITGB1"><rect x="634" y="361" width="46" height="17" class="n c0"/><text x="657" y="374" class="t">ITGA9</text><rect x="634" y="378" width="46" height="17" class="n g"/><text x="657" y="391" class="t">ITGB1</text></g>
<g id="le_VCAM1"><rect x="718" y="369" width="46" height="17" class="n c0"/><text x="741" y="382" class="t" textLength="44" lengthAdjust="spacingAndGlyphs">VCAM1</text></g>
<g id="le_ITGA4_ITGB7"><rect x="634" y="409" width="46" height="17" class="n c0"/><text x="657" y="422" class="t">ITGA4</text><rect x="634" y="426" width="46" height="17" class="n c0"/><text x="657" y="439" class="t">ITGB7</text></g>
<g id="le_MAdCAM1"><rect x="719" y="458" width="46" height="17" class="n g"/><text x="742" y="471" class="t" textLength="44" lengthAdjust="spacingAndGlyphs">MAdCAM1</text></g>
<g id="le_SELL"><rect x="634" y="487" width="46" height="17" class="n c0"/><text x="657" y="500" class="t">SELL</text></g>
<g id="le_GlyCAM1"><rect x="719" y="487" width="46" height="17" class="n g"/><text x="742" y="500" class="t" textLength="44" lengthAdjust="spacingAndGlyphs">GlyCAM1</text></g>
<g id="le_CD34"><rect x="718" y="516" width="46" height="17" class="n c0"/><text x="741" y="529" class="t">CD34</text></g>
<g id="le_SELPLG"><rect x="633" y="553" width="46" height="17" class="n c0"/><text x="656" y="566" class="t" textLength="44" lengthAdjust="spacingAndGlyphs">SELPLG</text></g>
<g id="le_SELP"><rect x="717" y="553" width="46" height="17" class="n c0"/><text x="740" y="566" class="t">SELP</text></g>
<g id="le_GLG1"><rect x="633" y="592" width="46" height="17" class="n c3"/><text x="656" y="605" class="t">GLG1</text></g>
<g id="le_SELE"><rect x="717" y="592" width="46" height="17" class="n c0"/><text x="740" y="605" class="t">SELE</text></g>
<g id="le_PECAM1a"><rect x="633" y="631" width="46" height="17" class="n c2"/><text x="656" y="644" class="t" textLength="44" lengthAdjust="spacingAndGlyphs">PECAM1</text></g>
<g id="le_PECAM1b"><rect x="717" y="631" width="46" height="17" class="n c2"/><text x="740" y="644" class="t" textLength="44" lengthAdjust="spacingAndGlyphs">PECAM1</text></g>
<g id="le_CD99a"><rect x="633" y="669" width="46" height="17" class="n e0"/><text x="656" y="682" class="t">CD99</text></g>
<g id="le_CD99b"><rect x="717" y="669" width="46" height="17" class="n e0"/><text x="740" y="682" class="t">CD99</text></g>
<g id="le_PVR"><rect x="718" y="708" width="46" height="17" class="n c0"/><text x="741" y="721" class="t">PVR</text></g>
<g id="le_CD226"><rect x="633" y="722" width="46" height="17" class="n g"/><text x="656" y="735" class="t">CD226</text></g>
<g id="le_PVRL2"><rect x="718" y="734" width="46" height="17" class="n e2"/><text x="741" y="747" class="t">PVRL2</text></g>
<g id="le_CD2"><rect x="633" y="773" width="46" height="17" class="n c1"/><text x="656" y="786" class="t">CD2</text></g>
<g id="le_CD58"><rect x="717" y="773" width="46" height="17" class="n w"/><text x="740" y="786" class="t">CD58</text></g>

<!-- neural 1 -->
<g id="ns_PVRL1a"><rect x="826" y="98" width="46" height="17" class="n e2"/><text x="849" y="111" class="t">PVRL1</text></g>
<g id="ns_PVRL3b"><rect x="910" y="98" width="46" height="17" class="n e0"/><text x="933" y="111" class="t">PVRL3</text></g>
<g id="ns_PVRL3a"><rect x="826" y="123" width="46" height="17" class="n e0"/><text x="849" y="136" class="t">PVRL3</text></g>
<g id="ns_PVRL1b"><rect x="910" y="123" width="46" height="17" class="n e2"/><text x="933" y="136" class="t">PVRL1</text></g>
<g id="ns_CDH2a"><rect x="826" y="152" width="46" height="17" class="n e2"/><text x="849" y="165" class="t">CDH2</text></g>
<g id="ns_CDH2b"><rect x="910" y="152" width="46" height="17" class="n e2"/><text x="933" y="165" class="t">CDH2</text></g>
<g id="ns_NCAMa"><rect x="826" y="181" width="46" height="17" class="n c0"/><text x="849" y="194" class="t">NCAM</text></g>
<g id="ns_NCAMb"><rect x="910" y="181" width="46" height="17" class="n c0"/><text x="933" y="194" class="t">NCAM</text></g>
<g id="ns_L1CAMa"><rect x="826" y="211" width="46" height="17" class="n c0"/><text x="849" y="224" class="t">L1CAM</text></g>
<g id="ns_L1CAMb"><rect x="910" y="211" width="46" height="17" class="n c0"/><text x="933" y="224" class="t">L1CAM</text></g>
<g id="ns_IGSF4a"><rect x="826" y="238" width="46" height="17" class="n g"/><text x="849" y="251" class="t">IGSF4</text></g>
<g id="ns_IGSF4b"><rect x="910" y="238" width="46" height="17" class="n g"/><text x="933" y="251" class="t">IGSF4</text></g>
<g id="ns_NEGR1a"><rect x="826" y="269" width="46" height="17" class="n c0"/><text x="849" y="282" class="t">NEGR1</text></g>
<g id="ns_NEGR1b"><rect x="910" y="269" width="46" height="17" class="n c0"/><text x="933" y="282" class="t">NEGR1</text></g>
<g id="ns_NTNG1"><rect x="826" y="298" width="46" height="17" class="n g"/><text x="849" y="311" class="t">NTNG1</text></g>
<g id="ns_NGL1"><rect x="910" y="298" width="46" height="17" class="n c1"/><text x="933" y="311" class="t">NGL1</text></g>
<g id="ns_NTNG2"><rect x="826" y="324" width="46" height="17" class="n c2"/><text x="849" y="337" class="t">NTNG2</text></g>
<g id="ns_NGL2"><rect x="910" y="324" width="46" height="17" class="n c0"/><text x="933" y="337" class="t">NGL2</text></g>
<g id="ns_PTPRF"><rect x="826" y="353" width="46" height="17" class="n e1"/><text x="849" y="366" class="t">PTPRF</text></g>
<g id="ns_NGL3"><rect x="910" y="353" width="46" height="17" class="n g"/><text x="933" y="366" class="t">NGL3</text></g>
<g id="ns_SDCa"><rect x="826" y="379" width="46" height="17" class="n e0"/><text x="849" y="392" class="t">SDC</text></g>
<g id="ns_SDCb"><rect x="910" y="379" width="46" height="17" class="n e0"/><text x="933" y="392" class="t">SDC</text></g>
<g id="ns_ITGAV_ITGB8"><rect x="910" y="408" width="46" height="17" class="n c2"/><text x="933" y="421" class="t">ITGAV</text><rect x="910" y="425" width="46" height="17" class="n c0"/><text x="933" y="438" class="t">ITGB8</text></g>
<g id="ns_ITGA8_ITGB1"><rect x="910" y="451" width="46" height="17" class="n c0"/><text x="933" y="464" class="t">ITGA8</text><rect x="910" y="468" width="46" height="17" class="n g"/><text x="933" y="481" class="t">ITGB1</text></g>
<g id="ns_NRXN"><rect x="826" y="495" width="46" height="17" class="n c0"/><text x="849" y="508" class="t" textLength="44" lengthAdjust="spacingAndGlyphs">β-NRXN</text></g>
<g id="ns_NLGN"><rect x="910" y="495" width="46" height="17" class="n c0"/><text x="933" y="508" class="t">NLGN</text></g>
<g id="ns_PTPs"><rect x="826" y="523" width="46" height="17" class="n c0"/><text x="849" y="536" class="t">PTPσ</text></g>
<g id="ns_SLITRKs"><rect x="910" y="523" width="46" height="17" class="n e2"/><text x="933" y="536" class="t" textLength="44" lengthAdjust="spacingAndGlyphs">SLITRKs</text></g>
<g id="ns_PTPd"><rect x="826" y="547" width="46" height="17" class="n e0"/><text x="849" y="560" class="t">PTPδ</text></g>
<g id="ns_SLITRK3"><rect x="910" y="547" width="46" height="17" class="n g"/><text x="933" y="560" class="t" textLength="44" lengthAdjust="spacingAndGlyphs">SLITRK3</text></g>

<!-- neural 2 -->
<g id="gc_IGSF4Ba"><rect x="826" y="627" width="46" height="17" class="n e3"/><text x="849" y="640" class="t">IGSF4B</text></g>
<g id="gc_IGSF4Bb"><rect x="909" y="627" width="46" height="17" class="n e3"/><text x="932" y="640" class="t">IGSF4B</text></g>
<g id="gc_NRCAM"><rect x="826" y="657" width="46" height="17" class="n c0"/><text x="849" y="670" class="t" textLength="44" lengthAdjust="spacingAndGlyphs">NRCAM</text></g>
<g id="gc_CNTN1"><rect x="909" y="657" width="46" height="17" class="n g"/><text x="932" y="670" class="t">CNTN1</text></g>
<g id="gc_PTPRMa"><rect x="826" y="687" width="46" height="17" class="n c0"/><text x="849" y="700" class="t" textLength="44" lengthAdjust="spacingAndGlyphs">PTPRM</text></g>
<g id="gc_PTPRMb"><rect x="909" y="687" width="46" height="17" class="n c0"/><text x="932" y="700" class="t" textLength="44" lengthAdjust="spacingAndGlyphs">PTPRM</text></g>
<g id="gc_NCAMa"><rect x="826" y="717" width="46" height="17" class="n c0"/><text x="849" y="730" class="t">NCAM</text></g>
<g id="gc_NCAMb"><rect x="909" y="717" width="46" height="17" class="n c0"/><text x="932" y="730" class="t">NCAM</text></g>
<g id="gc_CNTN2a"><rect x="826" y="748" width="46" height="17" class="n e0"/><text x="849" y="761" class="t">CNTN2</text></g>
<g id="gc_CNTN2b"><rect x="909" y="748" width="46" height="17" class="n e0"/><text x="932" y="761" class="t">CNTN2</text></g>
<g id="gc_L1CAMa"><rect x="826" y="783" width="46" height="17" class="n c0"/><text x="849" y="796" class="t">L1CAM</text></g>
<g id="gc_L1CAMb"><rect x="909" y="783" width="46" height="17" class="n c0"/><text x="932" y="796" class="t">L1CAM</text></g>
<g id="gc_CDH2a"><rect x="826" y="813" width="46" height="17" class="n e2"/><text x="849" y="826" class="t">CDH2</text></g>
<g id="gc_CDH2b"><rect x="909" y="813" width="46" height="17" class="n e2"/><text x="932" y="826" class="t">CDH2</text></g>

<!-- schwann 1 -->
<g id="sc_NRCAM"><rect x="1100" y="112" width="46" height="17" class="n c0"/><text x="1123" y="125" class="t" textLength="44" lengthAdjust="spacingAndGlyphs">NRCAM</text></g>
<g id="sc_SDC"><rect x="1015" y="125" width="46" height="17" class="n e0"/><text x="1038" y="138" class="t">SDC</text></g>
<g id="sc_NF186"><rect x="1100" y="139" width="46" height="17" class="n e0"/><text x="1123" y="152" class="t">NF186</text></g>
<g id="sc_NF155"><rect x="1015" y="179" width="46" height="17" class="n e0"/><text x="1038" y="192" class="t">NF155</text></g>
<g id="sc_CNTN1_CNTNAP1"><rect x="1100" y="179" width="46" height="17" class="n g"/><text x="1123" y="192" class="t">CNTN1</text><rect x="1100" y="196" width="46" height="17" class="n c0"/><text x="1123" y="209" class="t" textLength="44" lengthAdjust="spacingAndGlyphs">CNTNAP1</text></g>
<g id="sc_CNTN2"><rect x="1015" y="247" width="46" height="17" class="n e0"/><text x="1038" y="260" class="t">CNTN2</text></g>
<g id="sc_CNTN2_CNTNAP2"><rect x="1100" y="247" width="46" height="17" class="n e0"/><text x="1123" y="260" class="t">CNTN2</text><rect x="1100" y="264" width="46" height="17" class="n g"/><text x="1123" y="277" class="t" textLength="44" lengthAdjust="spacingAndGlyphs">CNTNAP2</text></g>

<!-- epithelial -->
<g id="ep_CLDNa"><rect x="1206" y="106" width="46" height="17" class="n c0"/><text x="1229" y="119" class="t">CLDN</text></g>
<g id="ep_CLDNb"><rect x="1290" y="106" width="46" height="17" class="n c0"/><text x="1313" y="119" class="t">CLDN</text></g>
<g id="ep_OCLNa"><rect x="1206" y="133" width="46" height="17" class="n g"/><text x="1229" y="146" class="t">OCLN</text></g>
<g id="ep_OCLNb"><rect x="1290" y="133" width="46" height="17" class="n g"/><text x="1313" y="146" class="t">OCLN</text></g>
<g id="ep_JAM1a"><rect x="1206" y="161" width="46" height="17" class="n c2"/><text x="1229" y="174" class="t">JAM1</text></g>
<g id="ep_JAM1b"><rect x="1290" y="161" width="46" height="17" class="n c2"/><text x="1313" y="174" class="t">JAM1</text></g>
<g id="ep_PVRL1a"><rect x="1206" y="188" width="46" height="17" class="n e2"/><text x="1229" y="201" class="t">PVRL1</text></g>
<g id="ep_PVRL1b"><rect x="1290" y="188" width="46" height="17" class="n e2"/><text x="1313" y="201" class="t">PVRL1</text></g>
<g id="ep_CDHEa"><rect x="1206" y="215" width="46" height="17" class="n c1"/><text x="1229" y="228" class="t">CDHE</text></g>
<g id="ep_CDHEb"><rect x="1290" y="215" width="46" height="17" class="n c1"/><text x="1313" y="228" class="t">CDHE</text></g>
<g id="ep_IGSF4a"><rect x="1206" y="243" width="46" height="17" class="n g"/><text x="1229" y="256" class="t">IGSF4</text></g>
<g id="ep_IGSF4b"><rect x="1290" y="243" width="46" height="17" class="n g"/><text x="1313" y="256" class="t">IGSF4</text></g>

<!-- schwann 2 -->
<g id="s2_MPZa"><rect x="1014" y="399" width="46" height="17" class="n c0"/><text x="1037" y="412" class="t">MPZ</text></g>
<g id="s2_MPZb"><rect x="1099" y="399" width="46" height="17" class="n c0"/><text x="1122" y="412" class="t">MPZ</text></g>
<g id="s2_MAGa"><rect x="1014" y="429" width="46" height="17" class="n c1"/><text x="1037" y="442" class="t">MAG</text></g>
<g id="s2_MAGb"><rect x="1099" y="429" width="46" height="17" class="n c1"/><text x="1122" y="442" class="t">MAG</text></g>
<g id="s2_CDHEa"><rect x="1014" y="459" width="46" height="17" class="n c1"/><text x="1037" y="472" class="t">CDHE</text></g>
<g id="s2_CDHEb"><rect x="1100" y="459" width="46" height="17" class="n c1"/><text x="1123" y="472" class="t">CDHE</text></g>

<!-- spermatid / sertoli -->
<g id="sp_CDHEa"><rect x="1206" y="408" width="46" height="17" class="n c1"/><text x="1229" y="421" class="t">CDHE</text></g>
<g id="sp_CDHEb"><rect x="1290" y="408" width="46" height="17" class="n c1"/><text x="1313" y="421" class="t">CDHE</text></g>
<g id="sp_CDH2a"><rect x="1206" y="434" width="46" height="17" class="n e2"/><text x="1229" y="447" class="t">CDH2</text></g>
<g id="sp_CDH2b"><rect x="1290" y="434" width="46" height="17" class="n e2"/><text x="1313" y="447" class="t">CDH2</text></g>
<g id="sp_PVRL3"><rect x="1206" y="460" width="46" height="17" class="n e0"/><text x="1229" y="473" class="t">PVRL3</text></g>
<g id="sp_PVRL2"><rect x="1290" y="460" width="46" height="17" class="n e2"/><text x="1313" y="473" class="t">PVRL2</text></g>
<g id="sp_ITGA6_ITGB1"><rect x="1290" y="485" width="46" height="17" class="n c0"/><text x="1313" y="498" class="t">ITGA6</text><rect x="1290" y="502" width="46" height="17" class="n g"/><text x="1313" y="515" class="t">ITGB1</text></g>

<!-- ciliary body -->
<g id="cb_PVRL1a"><rect x="1207" y="597" width="46" height="17" class="n e2"/><text x="1230" y="610" class="t">PVRL1</text></g>
<g id="cb_PVRL3b"><rect x="1291" y="597" width="46" height="17" class="n e0"/><text x="1314" y="610" class="t">PVRL3</text></g>
<g id="cb_PVRL3a"><rect x="1207" y="623" width="46" height="17" class="n e0"/><text x="1230" y="636" class="t">PVRL3</text></g>
<g id="cb_PVRL1b"><rect x="1291" y="623" width="46" height="17" class="n e2"/><text x="1314" y="636" class="t">PVRL1</text></g>
<g id="cb_CDH3a"><rect x="1207" y="651" width="46" height="17" class="n c0"/><text x="1230" y="664" class="t">CDH3</text></g>
<g id="cb_CDH3b"><rect x="1291" y="651" width="46" height="17" class="n c0"/><text x="1314" y="664" class="t">CDH3</text></g>

<!-- myoblasts -->
<g id="my_CDH2a"><rect x="1207" y="717" width="46" height="17" class="n e2"/><text x="1230" y="730" class="t">CDH2</text></g>
<g id="my_CDH2b"><rect x="1291" y="717" width="46" height="17" class="n e2"/><text x="1314" y="730" class="t">CDH2</text></g>
<g id="my_CDH4a"><rect x="1207" y="742" width="46" height="17" class="n c0"/><text x="1230" y="755" class="t">CDH4</text></g>
<g id="my_CDH4b"><rect x="1291" y="742" width="46" height="17" class="n c0"/><text x="1314" y="755" class="t">CDH4</text></g>
<g id="my_CDH15a"><rect x="1207" y="767" width="46" height="17" class="n e0"/><text x="1230" y="780" class="t">CDH15</text></g>
<g id="my_CDH15b"><rect x="1291" y="767" width="46" height="17" class="n e0"/><text x="1314" y="780" class="t">CDH15</text></g>
<g id="my_NEO1"><rect x="1291" y="793" width="46" height="17" class="n c3"/><text x="1314" y="806" class="t">NEO1</text></g>

<!-- oligodendrocyte -->
<g id="ol_NRCAM"><rect x="1100" y="622" width="46" height="17" class="n c0"/><text x="1123" y="635" class="t" textLength="44" lengthAdjust="spacingAndGlyphs">NRCAM</text></g>
<g id="ol_CSPG2"><rect x="1015" y="646" width="46" height="17" class="n c0"/><text x="1038" y="659" class="t">CSPG2</text></g>
<g id="ol_NFASCb"><rect x="1100" y="646" width="46" height="17" class="n e0"/><text x="1123" y="659" class="t">NFASC</text></g>
<g id="ol_CNTN1b"><rect x="1100" y="672" width="46" height="17" class="n g"/><text x="1123" y="685" class="t">CNTN1</text></g>
<g id="ol_NFASCa"><rect x="1015" y="710" width="46" height="17" class="n e0"/><text x="1038" y="723" class="t">NFASC</text></g>
<g id="ol_CNTN1a"><rect x="1015" y="734" width="46" height="17" class="n g"/><text x="1038" y="747" class="t">CNTN1</text></g>
<g id="ol_CNTN1_CNTNAP1"><rect x="1100" y="712" width="46" height="17" class="n g"/><text x="1123" y="725" class="t">CNTN1</text><rect x="1100" y="729" width="46" height="17" class="n c0"/><text x="1123" y="742" class="t" textLength="44" lengthAdjust="spacingAndGlyphs">CNTNAP1</text></g>
<g id="ol_CNTN2a"><rect x="1015" y="775" width="46" height="17" class="n e0"/><text x="1038" y="788" class="t">CNTN2</text></g>
<g id="ol_CNTN2_CNTNAP2"><rect x="1100" y="777" width="46" height="17" class="n e0"/><text x="1123" y="790" class="t">CNTN2</text><rect x="1100" y="794" width="46" height="17" class="n g"/><text x="1123" y="807" class="t" textLength="44" lengthAdjust="spacingAndGlyphs">CNTNAP2</text></g>
</svg>
